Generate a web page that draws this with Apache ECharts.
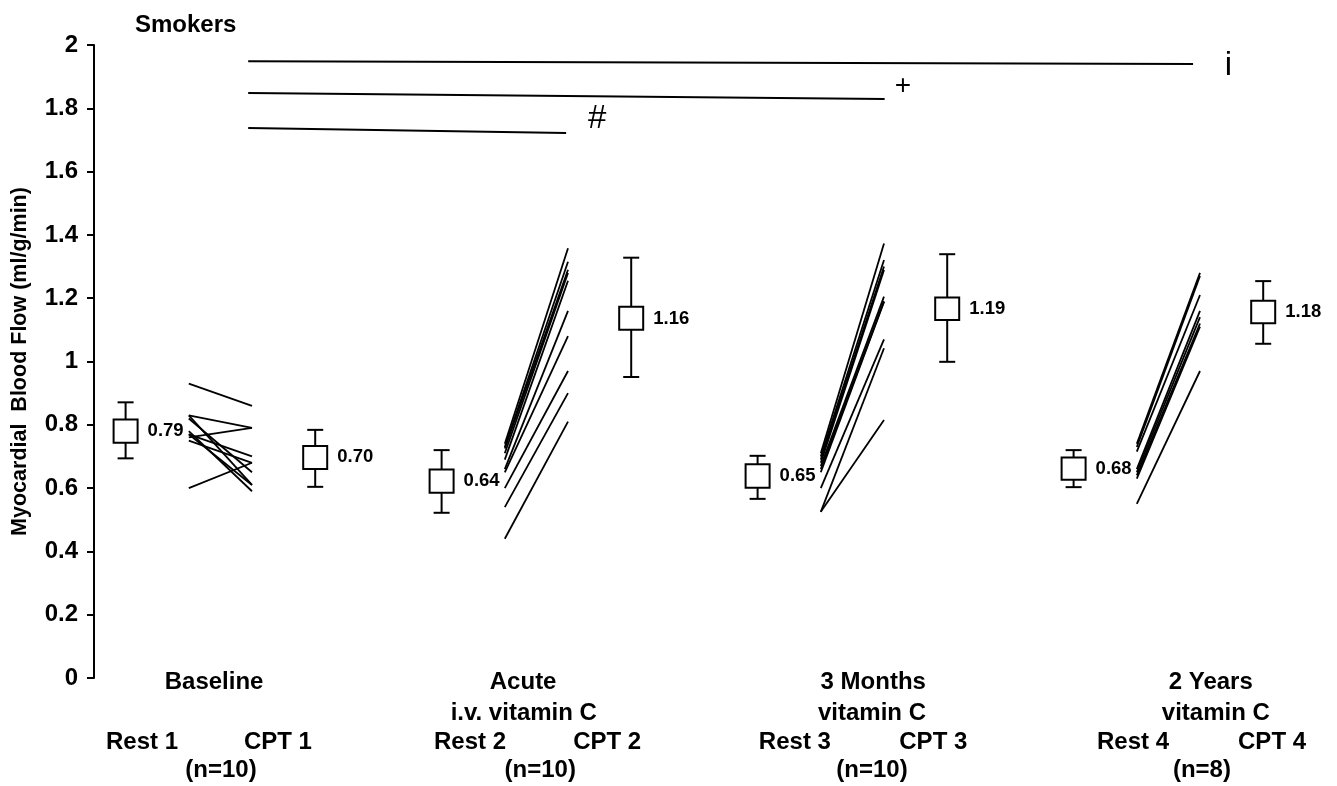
<!DOCTYPE html>
<html>
<head>
<meta charset="utf-8">
<title>Smokers - Myocardial Blood Flow</title>
<script src="https://cdn.jsdelivr.net/npm/echarts@6/dist/echarts.min.js"></script>
<style>
  html, body { margin: 0; padding: 0; background: #fff; }
  #chart { width: 1337px; height: 786px; }
</style>
</head>
<body>
<div id="chart"></div>
<script>
// x scale: each phase takes 5 units -> Rest at 0, patient lines 1..2, CPT at 3
const FONT = '"Liberation Sans", Arial, Helvetica, sans-serif';

// boxes (Rest 1, CPT 1, Rest 2, CPT 2, ...)
const boxX        = [0, 3, 5, 8, 10, 13, 15, 18];
const boxLabels   = ['0.79', '0.70', '0.64', '1.16', '0.65', '1.19', '0.68', '1.18'];
const whiskerLow  = [0.694, 0.604, 0.522, 0.951, 0.566, 0.999, 0.603, 1.056];
const boxLow      = [0.743, 0.660, 0.585, 1.100, 0.601, 1.131, 0.626, 1.121];
const boxMid      = [0.780, 0.697, 0.622, 1.136, 0.638, 1.166, 0.661, 1.157];
const boxHigh     = [0.817, 0.733, 0.659, 1.173, 0.675, 1.202, 0.697, 1.192];
const whiskerHigh = [0.871, 0.784, 0.720, 1.328, 0.702, 1.339, 0.720, 1.254];

// single patients, rest -> cpt
const lineX = [[1, 2], [6, 7], [11, 12], [16, 17]];
const baseRest  = [0.93, 0.83, 0.83, 0.82, 0.76, 0.78, 0.77, 0.77, 0.75, 0.60];
const baseCpt   = [0.86, 0.79, 0.61, 0.65, 0.79, 0.59, 0.61, 0.70, 0.68, 0.68];
const acuteRest = [0.44, 0.54, 0.60, 0.65, 0.66, 0.69, 0.71, 0.725, 0.73, 0.74];
const acuteCpt  = [0.81, 0.90, 0.97, 1.08, 1.16, 1.255, 1.28, 1.29, 1.315, 1.358];
const monthRest = [0.525, 0.525, 0.60, 0.65, 0.66, 0.67, 0.68, 0.69, 0.70, 0.71];
const monthCpt  = [0.815, 1.042, 1.07, 1.189, 1.19, 1.205, 1.289, 1.30, 1.321, 1.373];
const yearRest  = [0.55, 0.63, 0.64, 0.65, 0.66, 0.715, 0.73, 0.74];
const yearCpt   = [0.97, 1.11, 1.12, 1.14, 1.16, 1.21, 1.27, 1.28];

// significance bars
const sigStartX = [1.94, 1.94, 1.94];
const sigEndX   = [16.89, 12.01, 6.97];
const sigStartY = [1.949, 1.848, 1.738];
const sigEndY   = [1.940, 1.829, 1.722];
const sigMarks  = ['i', '+', '#'];
const sigMarkX  = [17.45, 12.3, 7.46];
const sigMarkY  = [1.935, 1.87, 1.765];

// texts under the plot
const headerText = ['Baseline', 'Acute', '3 Months', '2 Years'];
const headerX    = [1.40, 6.29, 11.83, 17.17];
const subText    = ['i.v. vitamin C', 'vitamin C', 'vitamin C'];
const subX       = [6.30, 11.81, 17.25];
const phaseText  = ['Rest 1', 'CPT 1', 'Rest 2', 'CPT 2', 'Rest 3', 'CPT 3', 'Rest 4', 'CPT 4'];
const phaseX     = [0.26, 2.41, 5.45, 7.62, 10.59, 12.78, 15.94, 18.14];
const nText      = ['(n=10)', '(n=10)', '(n=10)', '(n=8)'];
const nX         = [1.51, 6.56, 11.81, 17.03];

function patientLines() {
    const groups = [[baseRest, baseCpt], [acuteRest, acuteCpt], [monthRest, monthCpt], [yearRest, yearCpt]];
    const out = [];
    groups.forEach((g, i) => {
        g[0].forEach((v, k) => {
            out.push({ coords: [[lineX[i][0], v], [lineX[i][1], g[1][k]]] });
        });
    });
    return out;
}

function renderBox(params, api) {
    const x = api.value(0);
    const lo = api.coord([x, api.value(1)]);
    const bLo = api.coord([x, api.value(2)]);
    const mid = api.coord([x, api.value(3)]);
    const bHi = api.coord([x, api.value(4)]);
    const hi = api.coord([x, api.value(5)]);
    const cx = lo[0];
    const st = { stroke: '#000', lineWidth: 2, fill: null };
    return {
        type: 'group',
        children: [
            { type: 'line', shape: { x1: cx, y1: hi[1], x2: cx, y2: lo[1] }, style: st },
            { type: 'line', shape: { x1: cx - 8, y1: hi[1], x2: cx + 8, y2: hi[1] }, style: st },
            { type: 'line', shape: { x1: cx - 8, y1: lo[1], x2: cx + 8, y2: lo[1] }, style: st },
            { type: 'rect', shape: { x: cx - 12, y: bHi[1], width: 24, height: bLo[1] - bHi[1] },
              style: { stroke: '#000', lineWidth: 2, fill: '#fff' } },
            { type: 'text', x: cx + 22, y: mid[1],
              style: { text: boxLabels[params.dataIndex], fill: '#000', fontSize: 18.5, fontWeight: 'bold',
                       fontFamily: FONT, align: 'left', verticalAlign: 'middle' } }
        ]
    };
}

function renderMark(params, api) {
    const p = api.coord([api.value(0), api.value(1)]);
    const t = sigMarks[params.dataIndex];
    return {
        type: 'text', x: p[0], y: p[1],
        style: { text: t, fill: '#000', fontSize: t === '+' ? 28 : 33, fontFamily: FONT,
                 align: 'center', verticalAlign: 'middle' }
    };
}

const chart = echarts.init(document.getElementById('chart'));

const option = {
    backgroundColor: '#fff',
    animation: false,
    title: {
        text: 'Smokers', left: 130, top: 8,
        textStyle: { fontSize: 24, fontWeight: 'bold', color: '#000', fontFamily: FONT }
    },
    grid: { left: 94, right: 10.6, top: 45, bottom: 108, outerBoundsMode: 'none', containLabel: false },
    xAxis: { type: 'value', min: -0.5, max: 19, show: false },
    yAxis: {
        type: 'value', min: 0, max: 2, interval: 0.2,
        name: 'Myocardial  Blood Flow (ml/g/min)',
        nameLocation: 'middle', nameRotate: 90, nameGap: 63, nameMoveOverlap: false,
        nameTextStyle: { fontSize: 21.5, fontWeight: 'bold', color: '#000', fontFamily: FONT },
        axisLine: { show: true, onZero: false, lineStyle: { color: '#000', width: 2 } },
        axisTick: { show: true, length: 7, lineStyle: { color: '#000', width: 2 } },
        axisLabel: { color: '#000', fontSize: 24, fontWeight: 'bold', fontFamily: FONT, margin: 16 },
        splitLine: { show: false }
    },
    series: [
        {
            name: 'patients', type: 'lines', coordinateSystem: 'cartesian2d',
            lineStyle: { color: '#000', width: 1.8, opacity: 1 },
            data: patientLines()
        },
        {
            name: 'significance', type: 'lines', coordinateSystem: 'cartesian2d',
            lineStyle: { color: '#000', width: 2, opacity: 1 },
            data: sigStartX.map((x, i) => ({ coords: [[x, sigStartY[i]], [sigEndX[i], sigEndY[i]]] }))
        },
        {
            name: 'marks', type: 'custom', renderItem: renderMark,
            data: sigMarkX.map((x, i) => [x, sigMarkY[i]])
        },
        {
            name: 'mean', type: 'custom', renderItem: renderBox,
            encode: { x: 0, y: [1, 2, 3, 4, 5] },
            data: boxX.map((x, i) => [x, whiskerLow[i], boxLow[i], boxMid[i], boxHigh[i], whiskerHigh[i]])
        }
    ]
};

chart.setOption(option);

// labels under the axis, positioned with the x scale
const px = v => chart.convertToPixel({ xAxisIndex: 0 }, v);
const labelStyle = t => ({ text: t, fill: '#000', fontSize: 24, fontWeight: 'bold', fontFamily: FONT,
                           align: 'center', verticalAlign: 'middle' });
const graphic = [];
headerText.forEach((t, i) => graphic.push({ type: 'text', x: px(headerX[i]), y: 682, style: labelStyle(t) }));
subText.forEach((t, i) => graphic.push({ type: 'text', x: px(subX[i]), y: 713, style: labelStyle(t) }));
phaseText.forEach((t, i) => graphic.push({ type: 'text', x: px(phaseX[i]), y: 742, style: labelStyle(t) }));
nText.forEach((t, i) => graphic.push({ type: 'text', x: px(nX[i]), y: 770, style: labelStyle(t) }));
chart.setOption({ graphic: graphic });
</script>
</body>
</html>
